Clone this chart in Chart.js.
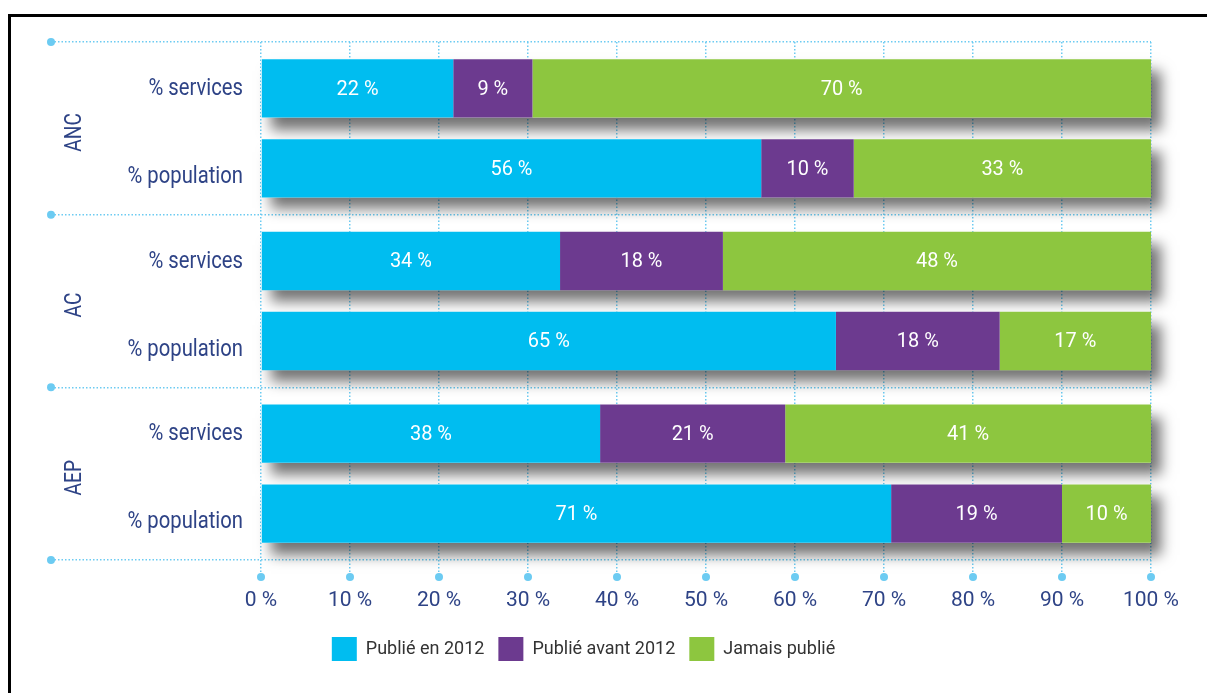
<!DOCTYPE html>
<html>
<head>
<meta charset="utf-8">
<script src="https://cdn.jsdelivr.net/npm/chart.js@4/dist/chart.umd.min.js"></script>
<style>
  html, body { margin: 0; padding: 0; background: #fff; overflow: hidden; }
  #frame { position: absolute; left: 8px; top: 14px; width: 1400px; height: 900px; border: 3px solid #000; }
  #wrap { position: absolute; left: 0; top: 0; width: 1207px; height: 693px; }
</style>
</head>
<body>
<div id="frame"></div>
<div id="wrap"><canvas id="chart" width="1207" height="693"></canvas></div>
<script>
const groups = ["ANC", "AC", "AEP"];
const rowLabels = ["% services", "% population"];
const statusLabels = ["Publié en 2012", "Publié avant 2012", "Jamais publié"];
const statusColors = ["#00bdf0", "#6c3a8f", "#8dc63f"];

// share of services, per group
const servicesPublished2012 = [21.6, 33.6, 38.1];
const servicesPublishedBefore = [8.9, 18.3, 20.8];
const servicesNeverPublished = [69.5, 48.1, 41.1];

// share of population, per group
const populationPublished2012 = [56.2, 64.6, 70.8];
const populationPublishedBefore = [10.4, 18.4, 19.2];
const populationNeverPublished = [33.4, 17.0, 10.0];

const xTickStep = 10;

const navy = "#2e4386";
const gridBlue = "#6ccbf2";
const fontFamily = "Roboto, 'Liberation Sans', sans-serif";

const datasets = [];
[servicesPublished2012, servicesPublishedBefore, servicesNeverPublished].forEach(function (d, i) {
  datasets.push({ label: statusLabels[i], data: d, stack: "services", backgroundColor: statusColors[i], borderWidth: 0 });
});
[populationPublished2012, populationPublishedBefore, populationNeverPublished].forEach(function (d, i) {
  datasets.push({ label: statusLabels[i], data: d, stack: "population", backgroundColor: statusColors[i], borderWidth: 0 });
});

// draws text squeezed horizontally, the original uses a condensed face
function narrowText(ctx, text, x, y, squeeze) {
  ctx.save();
  ctx.translate(x, y);
  ctx.scale(squeeze, 1);
  ctx.fillText(text, 0, 0);
  ctx.restore();
}

// shadows, labels inside bars, row / group names and the small dots
const decorations = {
  id: "decorations",
  beforeDatasetsDraw(chart) {
    const ctx = chart.ctx;
    const x0 = chart.scales.x.getPixelForValue(0);
    ["services", "population"].forEach(function (stack) {
      const metas = chart.getSortedVisibleDatasetMetas().filter(m => m.stack === stack);
      groups.forEach(function (g, j) {
        let right = x0, top = 0, h = 0;
        metas.forEach(function (m) {
          const el = m.data[j];
          right = Math.max(right, el.x);
          top = el.y - el.height / 2;
          h = el.height;
        });
        ctx.save();
        ctx.shadowColor = "rgba(0,0,0,0.55)";
        ctx.shadowBlur = 13;
        ctx.shadowOffsetX = 10;
        ctx.shadowOffsetY = 12;
        ctx.fillStyle = "#fff";
        ctx.fillRect(x0, top, right - x0, h);
        ctx.restore();
      });
    });
  },
  afterDatasetsDraw(chart) {
    const ctx = chart.ctx;
    ctx.save();
    ctx.fillStyle = "#fff";
    ctx.font = "21px " + fontFamily;
    ctx.textAlign = "center";
    ctx.textBaseline = "middle";
    chart.getSortedVisibleDatasetMetas().forEach(function (m) {
      const values = chart.data.datasets[m.index].data;
      m.data.forEach(function (el, j) {
        narrowText(ctx, Math.round(values[j]) + " %", (el.x + el.base) / 2, el.y + 1, 0.95);
      });
    });
    ctx.restore();
  },
  afterDraw(chart) {
    const ctx = chart.ctx;
    const area = chart.chartArea;
    const xs = chart.scales.x;
    const ys = chart.scales.y;
    ctx.save();
    // row names (the population ones sit a little lower in the original)
    ctx.fillStyle = navy;
    ctx.font = "23px " + fontFamily;
    ctx.textAlign = "right";
    ctx.textBaseline = "middle";
    const rowShift = [1, 9];
    const firstOfStack = ["services", "population"].map(s => chart.getSortedVisibleDatasetMetas().find(m => m.stack === s));
    firstOfStack.forEach(function (m, r) {
      m.data.forEach(function (el) {
        narrowText(ctx, rowLabels[r], area.left - 18, el.y + rowShift[r], 0.88);
      });
    });
    // group names, rotated
    ctx.textAlign = "center";
    ctx.font = "24px " + fontFamily;
    groups.forEach(function (g, j) {
      ctx.save();
      ctx.translate(75, ys.getPixelForValue(j) + 4);
      ctx.rotate(-Math.PI / 2);
      narrowText(ctx, g, 0, 0, 0.8);
      ctx.restore();
    });
    // dots at the ends of the dotted lines
    ctx.fillStyle = gridBlue;
    const band = (area.bottom - area.top) / groups.length;
    for (let k = 0; k <= groups.length; k++) {
      ctx.beginPath();
      ctx.arc(area.left - ys.options.grid.tickLength, area.top + k * band, 4, 0, Math.PI * 2);
      ctx.fill();
    }
    xs.ticks.forEach(function (t) {
      ctx.beginPath();
      ctx.arc(xs.getPixelForValue(t.value), area.bottom + xs.options.grid.tickLength, 4, 0, Math.PI * 2);
      ctx.fill();
    });
    ctx.restore();
  }
};

const ctx = document.getElementById("chart").getContext("2d");
const chart = new Chart(ctx, {
  type: "bar",
  data: { labels: groups, datasets: datasets },
  options: {
    indexAxis: "y",
    responsive: false,
    animation: false,
    categoryPercentage: 0.926,
    barPercentage: 0.73,
    layout: { padding: { top: 42, left: 16, right: 56, bottom: 22 } },
    scales: {
      x: {
        stacked: true,
        min: 0,
        max: 100,
        ticks: {
          stepSize: xTickStep,
          callback: v => v + " %",
          color: navy,
          font: { family: fontFamily, size: 21 },
          padding: 11,
          maxRotation: 0,
          autoSkip: false
        },
        grid: { color: gridBlue, lineWidth: 1.5, tickLength: 17, tickColor: gridBlue, tickBorderDash: [1.5, 2] },
        border: { display: false, dash: [1.5, 2] },
        afterFit(scale) { scale.height = 63; }
      },
      y: {
        ticks: { display: false },
        grid: { color: gridBlue, lineWidth: 1.5, tickLength: 210, tickColor: gridBlue, tickBorderDash: [1.5, 2], offset: true },
        border: { display: false, dash: [1.5, 2] },
        afterFit(scale) { scale.width = 245; }
      }
    },
    plugins: {
      tooltip: { enabled: false },
      legend: {
        position: "bottom",
        labels: {
          filter: item => item.datasetIndex < 3,
          boxWidth: 25,
          boxHeight: 24,
          padding: 14,
          color: "#333",
          font: { family: fontFamily, size: 18 }
        }
      }
    }
  },
  plugins: [decorations]
});
</script>
</body>
</html>
